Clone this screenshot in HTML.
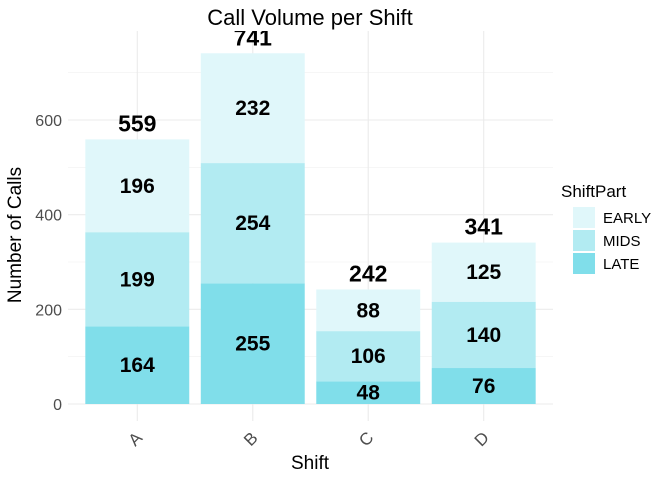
<!DOCTYPE html>
<html><head><meta charset="utf-8"><style>
body{margin:0;background:#fff;font-family:"Liberation Sans",sans-serif}
svg{display:block}
</style></head><body>
<svg id="c" width="672" height="480" xmlns="http://www.w3.org/2000/svg">
<defs><clipPath id="clip"><rect x="0" y="31" width="672" height="449"/></clipPath></defs>
<text x="310" y="25" text-anchor="middle" font-size="22" fill="#000">Call Volume per Shift</text>
<g id="grid"></g><g id="bars" clip-path="url(#clip)"></g><g id="axes"></g>
<text x="310" y="469" text-anchor="middle" font-size="19">Shift</text>
<text transform="translate(21,235) rotate(-90)" text-anchor="middle" font-size="19">Number of Calls</text>
<g>
<text x="561" y="197" font-size="17">ShiftPart</text>
<rect x="573" y="207" width="22" height="21" fill="#e0f7fa"/>
<text x="603" y="223" font-size="15">EARLY</text>
<rect x="573" y="230" width="22" height="21" fill="#b2ebf2"/>
<text x="603" y="246" font-size="15">MIDS</text>
<rect x="573" y="253" width="22" height="21" fill="#80deea"/>
<text x="603" y="269" font-size="15">LATE</text>
</g>
</svg>
<script>
const categories=["A","B","C","D"];
const late=[164,255,48,76];
const mids=[199,254,106,140];
const early=[196,232,88,125];
const yTicks=[0,200,400,600];
const yMinor=[100,300,500,700];
const NS="http://www.w3.org/2000/svg";
const L=68,R=553,T=31,B=404;
const y=v=>B-v*(284/600);
const step=(R-L)/4.2;
const x=i=>L+(i+0.6)*step;
const bw=step*0.9;
function mk(t,a,p){const e=document.createElementNS(NS,t);for(const k in a)e.setAttribute(k,a[k]);p.appendChild(e);return e;}
const g=document.getElementById('grid'),bg=document.getElementById('bars'),ax=document.getElementById('axes');
yMinor.forEach(v=>{const l=mk('line',{x1:L,x2:R,y1:y(v),y2:y(v),stroke:'#f0f0f0','stroke-width':0.6},g);

});
yTicks.forEach(v=>{const l=mk('line',{x1:L,x2:R,y1:y(v),y2:y(v),stroke:'#ebebeb','stroke-width':1.1},g);


const t=mk('text',{x:62,y:y(v)+6,'text-anchor':'end','font-size':16,fill:'#4d4d4d'},ax);t.textContent=v;

});
categories.forEach((c,i)=>{const l=mk('line',{x1:x(i),x2:x(i),y1:T,y2:B+17,stroke:'#ebebeb','stroke-width':1.1},g);


const t=mk('text',{transform:`translate(${x(i)+2},${443}) rotate(-45)`,'text-anchor':'middle','font-size':17,fill:'#4d4d4d'},ax);t.textContent=c;


const segs=[[late[i],'#80deea','late'],[mids[i],'#b2ebf2','mids'],[early[i],'#e0f7fa','early']];
let base=0;
segs.forEach(([v,col,n])=>{const r=mk('rect',{x:x(i)-bw/2,y:y(base+v),width:bw,height:y(base)-y(base+v),fill:col},bg);


const tt=mk('text',{x:x(i),y:y(base+v/2)+7,'text-anchor':'middle','font-size':21,'font-weight':'bold'},bg);tt.textContent=v;


base+=v;});
const tot=mk('text',{x:x(i),y:y(base)-8,'text-anchor':'middle','font-size':23,'font-weight':'bold'},bg);tot.textContent=base;

});
</script>
</body></html>
